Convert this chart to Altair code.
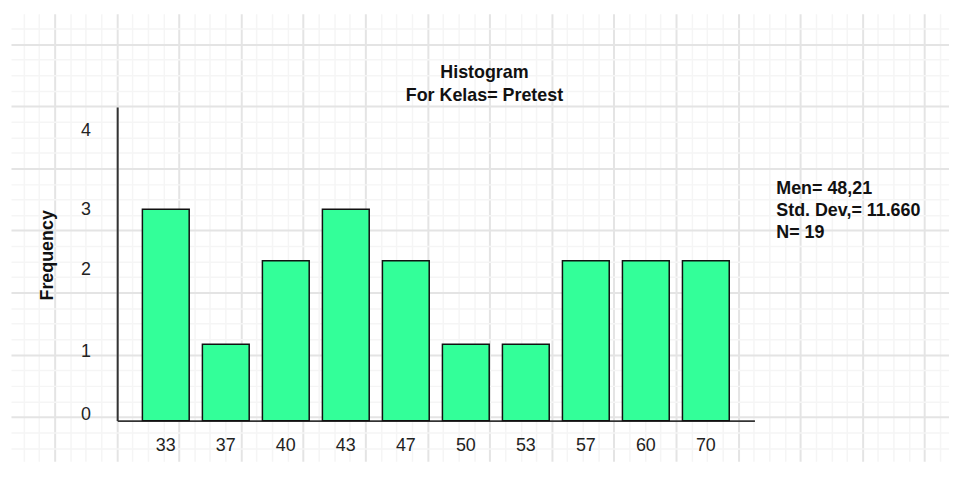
import math
import altair as alt
import pandas as pd

# ---- data ----
scores = ["33", "37", "40", "43", "47", "50", "53", "57", "60", "70"]
freqs = [3, 1, 2, 3, 2, 1, 1, 2, 2, 2]
y_ticks = [0, 1, 2, 3, 4]
title_lines = ["Histogram", "For Kelas= Pretest"]
stats_lines = ["Men= 48,21", "Std. Dev,= 11.660", "N= 19"]
y_title = "Frequency"

# ---- layout ----
W, H = 945, 451
FONT = "Liberation Sans"

# graph-paper background (minor cell size, origin of first major line)
CELL = 15.65
ux0, ux1 = -44 / CELL, (W - 44) / CELL
vy0, vy1 = -30.7 / CELL, (H - 30.7) / CELL
minor_x = [v for v in range(math.ceil(ux0), math.floor(ux1) + 1) if v % 4 != 0]
minor_y = [v for v in range(math.ceil(vy0), math.floor(vy1) + 1) if v % 4 != 0]
major_x = [v for v in range(math.ceil(ux0), math.floor(ux1) + 1) if v % 4 == 0]
major_y = [v for v in range(math.ceil(vy0), math.floor(vy1) + 1) if v % 4 == 0]

one = alt.Data(values=[{"u": 0, "v": 0}])


def paper_layer(vx, vy, color, width):
    ax = dict(grid=True, gridColor=color, gridWidth=width, labels=False,
              ticks=False, domain=False, title=None)
    return alt.Chart(one).mark_point(opacity=0, size=0).encode(
        x=alt.X("u:Q", scale=alt.Scale(domain=[ux0, ux1], nice=False, zero=False),
                axis=alt.Axis(values=vx, **ax)),
        y=alt.Y("v:Q", scale=alt.Scale(domain=[vy0, vy1], nice=False, zero=False, reverse=True),
                axis=alt.Axis(values=vy, **ax)),
    )


minor = paper_layer(minor_x, minor_y, "#f5f5f5", 1.5)
major = paper_layer(major_x, major_y, "#e4e4e4", 2)

df = pd.DataFrame({"score": scores, "freq": freqs})

y_label_offset = {
    "condition": [
        {"test": "datum.value === 0", "value": -6},
        {"test": "datum.value === 1", "value": 7},
        {"test": "datum.value === 2", "value": 9},
    ],
    "value": 0,
}

bars = alt.Chart(df).mark_bar(fill="#33FF99", stroke="#111111", strokeWidth=1.5).encode(
    x=alt.X("score:N", sort=scores,
            scale=alt.Scale(range=[107, 749], paddingInner=0.22, paddingOuter=0.42),
            axis=alt.Axis(orient="bottom", offset=-41, title=None, labelAngle=0,
                          ticks=False, tickSize=0, labelPadding=16, labelFontSize=18,
                          labelFont=FONT, labelColor="#222222", domainColor="#333333",
                          domainWidth=2, grid=False)),
    y=alt.Y("freq:Q",
            scale=alt.Scale(domain=[0, 1, 2, 3, 4, 4.3], range=[410, 333, 249, 197, 118, 94],
                            nice=False),
            axis=alt.Axis(orient="left", offset=-107, values=y_ticks, format="d",
                          ticks=False, tickSize=0, labelPadding=27, labelFontSize=18,
                          labelFont=FONT, labelColor="#222222", domainColor="#333333",
                          domainWidth=2, grid=False, labelOffset=y_label_offset,
                          title=y_title, titleFont=FONT, titleFontSize=18,
                          titleFontWeight="bold", titleColor="#111111", titleAngle=270,
                          titleX=-65, titleY=243, titleAlign="center",
                          titleBaseline="alphabetic")),
)

title_text = alt.Chart(one).mark_text(
    font=FONT, fontSize=18, fontWeight="bold", align="center", baseline="alphabetic",
    lineHeight=22.7, color="#111111"
).encode(x=alt.value(477), y=alt.value(65.3), text=alt.value(title_lines))

stats_text = alt.Chart(one).mark_text(
    font=FONT, fontSize=18, fontWeight="bold", align="left", baseline="alphabetic",
    lineHeight=22.5, color="#111111"
).encode(x=alt.value(771), y=alt.value(181.3), text=alt.value(stats_lines))

chart = alt.layer(minor, major, bars, title_text, stats_text).resolve_scale(
    x="independent", y="independent"
).properties(
    width=W, height=H,
    padding={"left": 3, "top": 4, "right": 0, "bottom": 0},
    autosize=alt.AutoSizeParams(type="none"),
    background="white",
).configure_view(stroke=None)

chart.save("out.html", embed_options={"renderer": "svg", "actions": False})
